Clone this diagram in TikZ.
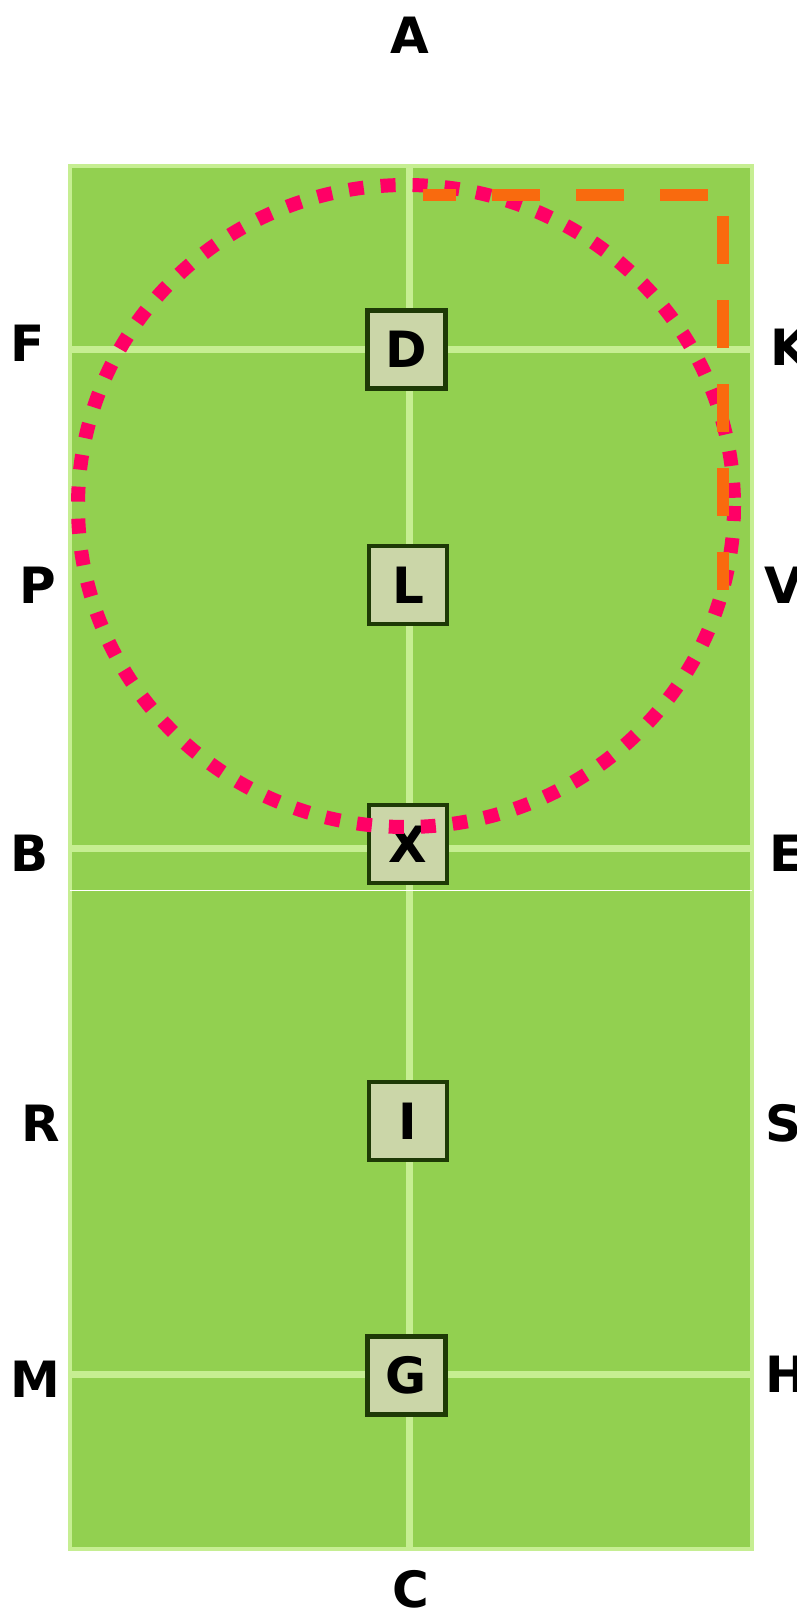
\documentclass[tikz,border=0pt]{standalone}
\usepackage{fontspec}
\setmainfont{DejaVu Sans}
\definecolor{fieldgreen}{HTML}{92D050}
\definecolor{linegreen}{HTML}{C6EE92}
\definecolor{boxfill}{HTML}{CBD6A8}
\definecolor{boxdraw}{HTML}{1E3A06}
\definecolor{ringpink}{HTML}{FF0066}
\definecolor{pathorange}{HTML}{F96A0E}

\begin{document}
\begin{tikzpicture}[x=1pt, y=-1pt,
  letter/.style={inner sep=0pt, font=\fontsize{50}{60}\selectfont\bfseries, text=black},
  marker/.style={draw=boxdraw, fill=boxfill, line width=4pt, minimum size=78pt, inner sep=0pt,
    font=\fontsize{50}{60}\selectfont\bfseries, text=black},
  bigmarker/.style={marker, line width=5pt},
  fieldline/.style={draw=linegreen, line width=7pt}]
  \useasboundingbox (0,0) rectangle (797,1609);
  % Field
  \fill[white] (0,0) rectangle (797,1609);
  \coordinate (nw) at (70,166);
  \coordinate (se) at (752,1549);
  \draw[fill=fieldgreen, draw=linegreen, line width=4pt] (nw) rectangle (se);
  % Field lines
  \foreach \y/\n in {349/fk, 848/be, 1374/mh} {
    \coordinate (\n l) at (70,\y);
    \coordinate (\n r) at (752,\y);
    \draw[fieldline] (\n l)--(\n r);
  }
  \coordinate (midtop) at (409,166);
  \coordinate (midbot) at (409,1549);
  \draw[fieldline] (midtop)--(midbot);
  \coordinate (thinl) at (70,890);
  \coordinate (thinr) at (752,890);
  \draw[white, line width=1pt] (thinl)--(thinr);
  % Markers on the centre line
  \node[bigmarker] (d) at (406,349) {D};
  \node[marker] (l) at (408,585) {L};
  \node[marker] (x) at (408,844) {X};
  \node[marker] (i) at (408,1121) {I};
  \node[bigmarker] (g) at (406,1375) {G};
  % Letters round the field
  \node[letter] (a) at (410,35) {A};
  \node[letter] (c) at (411,1589) {C};
  \node[letter] (f) at (28,343) {F};
  \node[letter] (p) at (38,585) {P};
  \node[letter] (b) at (30,853) {B};
  \node[letter] (r) at (41,1123) {R};
  \node[letter] (m) at (35,1379) {M};
  \node[letter, anchor=west] (k) at (770,347) {K};
  \node[letter, anchor=west] (v) at (764,585) {V};
  \node[letter, anchor=west] (e) at (769,853) {E};
  \node[letter, anchor=west] (s) at (765,1123) {S};
  \node[letter, anchor=west] (h) at (765,1374) {H};
  % Ring and corner path
  \coordinate (ringc) at (406,506);
  \draw[ringpink, line width=14pt, dash pattern=on 15pt off 17pt] (ringc) ellipse [x radius=328, y radius=321];
  \coordinate (pstart) at (423,195);
  \coordinate (pcorner) at (723,195);
  \coordinate (pend) at (723,590);
  \draw[pathorange, line width=12pt, dash pattern=on 48pt off 36pt, dash phase=15pt] (pstart)--(pcorner)--(pend);
\end{tikzpicture}
\end{document}
